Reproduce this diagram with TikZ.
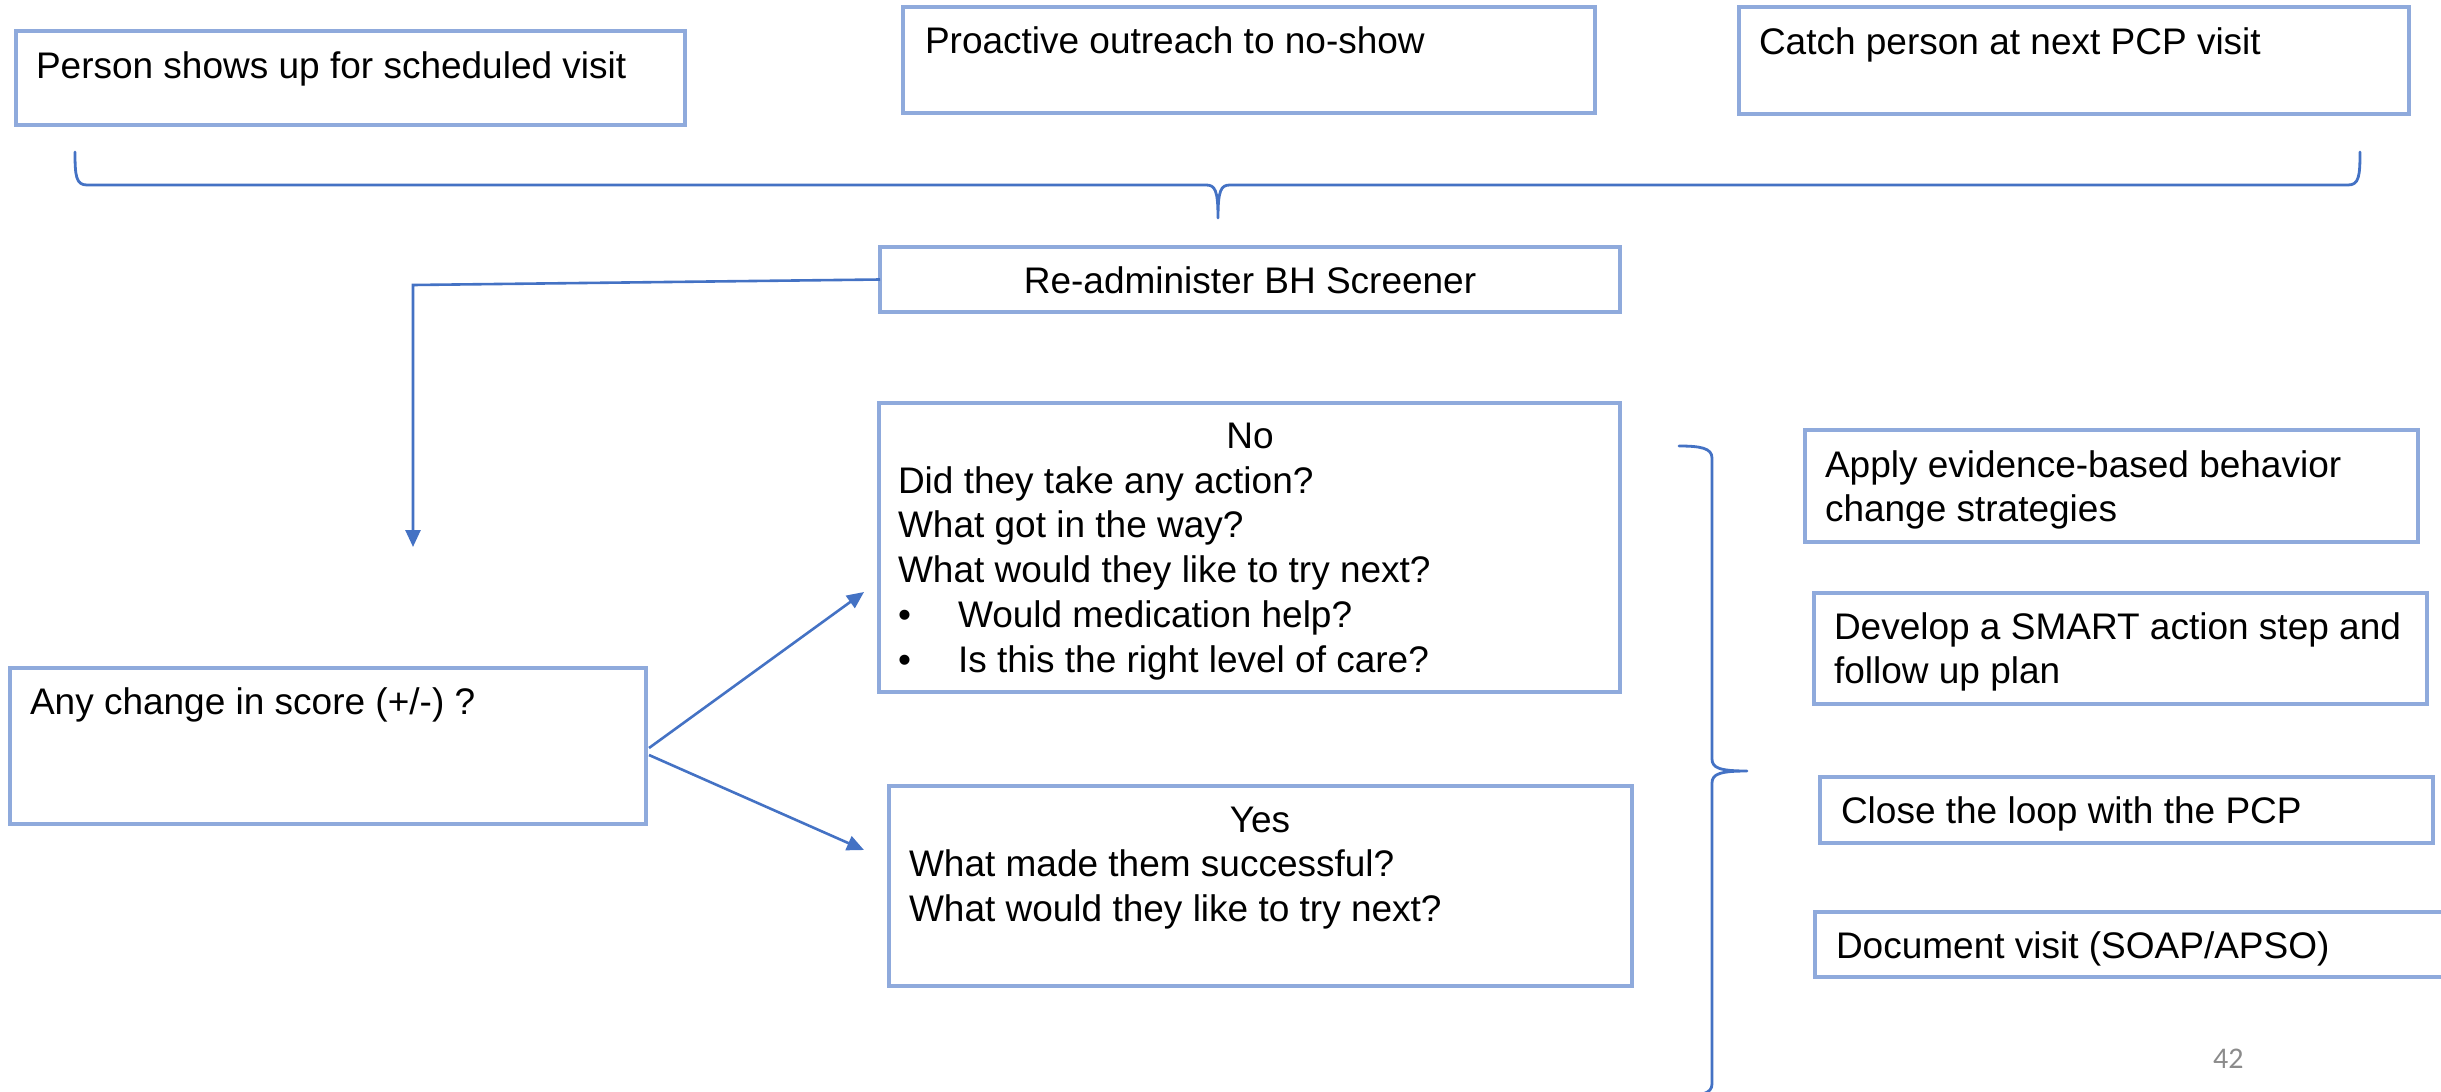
\documentclass[tikz,border=0pt]{standalone}
\usepackage{fontspec}
\setmainfont{Liberation Sans}
\newfontfamily\pagenumfont{Carlito}
\usetikzlibrary{arrows.meta}
\definecolor{boxblue}{HTML}{8FAADC}
\definecolor{linkblue}{HTML}{4472C4}
\definecolor{pagegray}{HTML}{8B8B8B}
\begin{document}
\begin{tikzpicture}[x=1pt,y=-1pt,
  box/.style={draw=boxblue,line width=3.5pt,inner sep=0pt,outer sep=0pt,fill=none},
  txt/.style={inner sep=0pt,outer sep=0pt,anchor=base west,font=\fontsize{37}{44}\selectfont},
  ctxt/.style={inner sep=0pt,outer sep=0pt,anchor=base,font=\fontsize{37}{44}\selectfont},
  link/.style={draw=linkblue,line width=2.6pt},
  brace/.style={draw=linkblue,line width=2.8pt,line cap=round,line join=round},
  tip/.style={-{Triangle[length=17pt,width=15pt]}}]
\useasboundingbox (0,0) rectangle (2441,1092);
\clip (0,0) rectangle (2441,1092);

% entry points
\node[box,minimum width=669pt,minimum height=94pt] (show) at (350.5,78) {};
\node[txt] (showt) at (36,78) {Person shows up for scheduled visit};
\node[box,minimum width=692pt,minimum height=106pt] (outreach) at (1249,60) {};
\node[txt] (outreacht) at (925,53) {Proactive outreach to no-show};
\node[box,minimum width=670pt,minimum height=107pt] (catch) at (2074,60.5) {};
\node[txt] (catcht) at (1759,54) {Catch person at next PCP visit};

% brace joining the three entry points
\coordinate (bl) at (75,152);
\coordinate (bm) at (1218,218);
\coordinate (br) at (2360,152);
\draw[brace] (bl) .. controls (75,176) and (76,185) .. (87,185) -- (1206,185)
  .. controls (1215,185) and (1218,190) .. (bm)
  .. controls (1218,190) and (1221,185) .. (1230,185) -- (2348,185)
  .. controls (2359,185) and (2360,176) .. (br);

% screener
\node[box,minimum width=740pt,minimum height=65pt] (screen) at (1250,279.5) {};
\node[ctxt] (screent) at (1250,293) {Re-administer BH Screener};

\coordinate (bend) at (413,285);
\coordinate (down) at (413,547);
\draw[link,tip] (screen.west) -- (bend) -- (down);

% score check
\node[box,minimum width=636pt,minimum height=156pt] (change) at (328,746) {};
\node[txt] (changet) at (30,714) {Any change in score (+/-) ?};

% no change
\node[box,minimum width=741pt,minimum height=289pt] (nobox) at (1249.5,547.5) {};
\node[ctxt] (not) at (1250,448) {No};
\node[txt] (no1) at (898,493) {Did they take any action?};
\node[txt] (no2) at (898,537) {What got in the way?};
\node[txt] (no3) at (898,582) {What would they like to try next?};
\node[txt] (nob1) at (898,627) {•};
\node[txt] (no4) at (958,627) {Would medication help?};
\node[txt] (nob2) at (898,672) {•};
\node[txt] (no5) at (958,672) {Is this the right level of care?};

% change
\node[box,minimum width=743pt,minimum height=200pt] (yesbox) at (1260.5,886) {};
\node[ctxt] (yest) at (1260,832) {Yes};
\node[txt] (yes1) at (909,876) {What made them successful?};
\node[txt] (yes2) at (909,921) {What would they like to try next?};

\coordinate (noend) at (864,592);
\coordinate (yesend) at (864,850);
\draw[link,tip] ([xshift=3pt,yshift=-2pt]change.east) -- (noend);
\draw[link,tip] ([xshift=3pt,yshift=-9pt]change.east) -- (yesend);

% brace gathering both outcomes
\coordinate (rt) at (1679,446);
\coordinate (rm) at (1747,771);
\coordinate (rb) at (1679,1096);
\draw[brace] (rt) .. controls (1700,446) and (1712,448) .. (1712,458) -- (1712,759)
  .. controls (1712,768) and (1720,771) .. (rm)
  .. controls (1720,771) and (1712,774) .. (1712,783) -- (1712,1084)
  .. controls (1712,1094) and (1700,1096) .. (rb);

% follow-up steps
\node[box,minimum width=613pt,minimum height=112pt] (apply) at (2111.5,486) {};
\node[txt] (apply1) at (1825,477) {Apply evidence-based behavior};
\node[txt] (apply2) at (1825,521) {change strategies};
\node[box,minimum width=613pt,minimum height=111pt] (smart) at (2120.5,648.5) {};
\node[txt] (smart1) at (1834,639) {Develop a SMART action step and};
\node[txt] (smart2) at (1834,683) {follow up plan};
\node[box,minimum width=613pt,minimum height=66pt] (loop) at (2126.5,810) {};
\node[txt] (loopt) at (1841,823) {Close the loop with the PCP};
\node[box,minimum width=645pt,minimum height=65pt] (docu) at (2137.5,944.5) {};
\node[txt] (docut) at (1836,958) {Document visit (SOAP/APSO)};

% slide number
\node[inner sep=0pt,anchor=base west,text=pagegray,font=\pagenumfont\fontsize{30}{36}\selectfont] (pg) at (2213,1068) {42};
\end{tikzpicture}
\end{document}
